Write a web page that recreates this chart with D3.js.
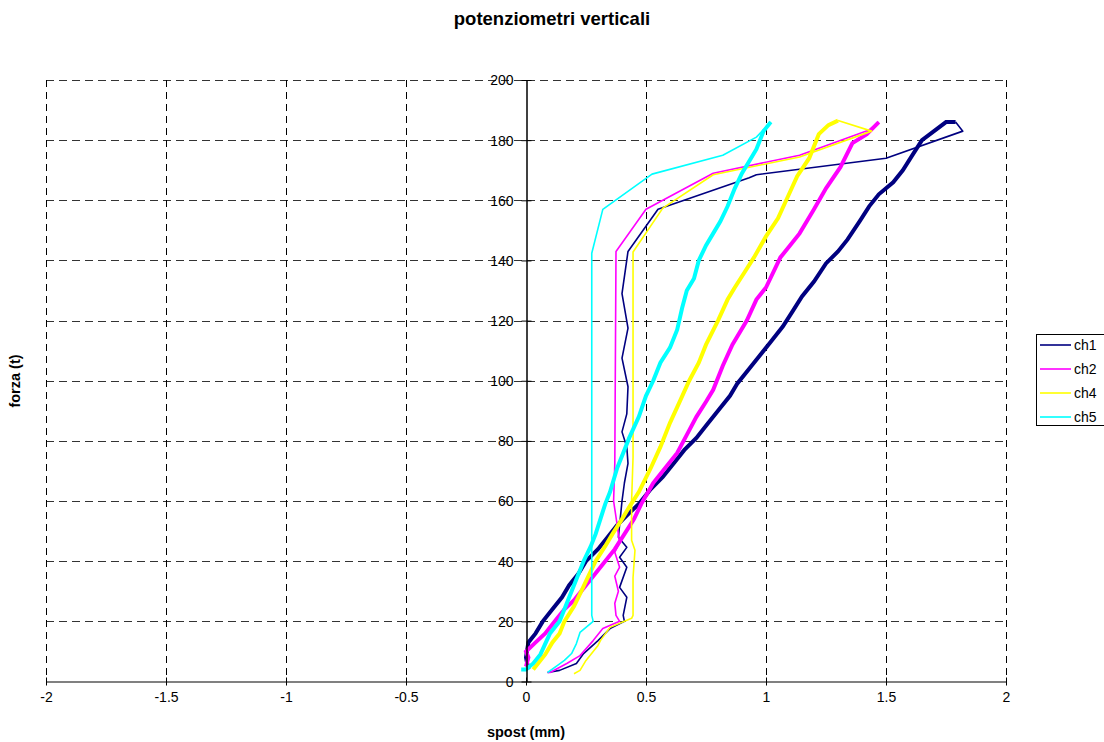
<!DOCTYPE html>
<html>
<head>
<meta charset="utf-8">
<script src="https://cdn.jsdelivr.net/npm/d3@7"></script>
<style>
  html, body { margin: 0; padding: 0; background: #fff; }
  svg { display: block; font-family: "Liberation Sans", Arial, sans-serif; }
</style>
</head>
<body>
<svg id="chart" width="1104" height="742"></svg>
<script>
// Vertical potentiometer readings: displacement (mm) vs load (t)
const xTicks = [-2, -1.5, -1, -0.5, 0, 0.5, 1, 1.5, 2];
const yTicks = [0, 20, 40, 60, 80, 100, 120, 140, 160, 180, 200];

const seriesNames = ["ch1", "ch2", "ch4", "ch5"];
const seriesColors = ["#000080", "#FF00FF", "#FFFF00", "#00FFFF"];

// loading branches [spost, forza]
const ch1Load = [[0.01,4],[0.0,8],[0.01,13],[0.04,16],[0.07,20],[0.11,24],[0.15,28],[0.18,32],[0.22,36],[0.25,40],[0.3,44],[0.34,48],[0.38,52],[0.43,56],[0.47,59],[0.52,64],[0.57,68],[0.62,73],[0.66,77],[0.71,81],[0.75,85],[0.8,90],[0.85,95],[0.88,99],[0.93,104],[0.97,108],[1.02,113],[1.07,118],[1.11,123],[1.15,128],[1.2,133],[1.25,139],[1.3,143],[1.34,147],[1.39,153],[1.43,158],[1.47,162],[1.53,166],[1.57,170],[1.61,175],[1.65,180],[1.7,183],[1.75,186],[1.79,186]];
const ch2Load = [[0.0,5],[0.01,8],[0.0,10],[0.04,13],[0.08,16],[0.12,20],[0.16,24],[0.2,27],[0.24,31],[0.28,35],[0.33,40],[0.37,44],[0.41,49],[0.45,54],[0.48,59],[0.53,66],[0.58,71],[0.63,76],[0.67,82],[0.71,88],[0.75,93],[0.78,97],[0.82,105],[0.86,112],[0.92,120],[0.96,127],[1.0,131],[1.06,141],[1.1,145],[1.14,149],[1.2,157],[1.25,164],[1.31,171],[1.36,179],[1.42,182],[1.47,186]];
const ch4Load = [[0.03,4],[0.05,6],[0.08,9],[0.11,13],[0.14,16],[0.16,20],[0.2,25],[0.23,30],[0.26,35],[0.29,40],[0.33,45],[0.36,49],[0.4,54],[0.43,58],[0.47,63],[0.52,71],[0.56,78],[0.6,86],[0.64,93],[0.68,100],[0.72,106],[0.75,112],[0.8,120],[0.84,127],[0.87,131],[0.91,136],[0.95,141],[1.0,148],[1.05,154],[1.09,161],[1.13,168],[1.18,174],[1.22,182],[1.26,185],[1.3,186.5]];
const ch5Load = [[-0.02,4],[0.0,4],[0.03,6],[0.06,9],[0.1,16],[0.14,20],[0.17,26],[0.19,30],[0.22,36],[0.24,40],[0.27,45],[0.29,49],[0.31,54],[0.33,59],[0.35,63],[0.38,71],[0.41,77],[0.43,81],[0.47,88],[0.5,95],[0.53,100],[0.56,106],[0.6,111],[0.63,117],[0.65,124],[0.67,130],[0.7,134],[0.72,140],[0.75,145],[0.78,149],[0.81,153],[0.84,158],[0.87,164],[0.9,169],[0.93,173],[0.96,177],[0.99,183],[1.02,186]];

// unloading branches [spost, forza]
const ch1Unload = [[1.79,186],[1.82,183],[1.5,174],[0.96,168.5],[0.93,167.5],[0.55,157],[0.425,143],[0.4,129],[0.425,117.5],[0.4,107.5],[0.425,98],[0.42,89],[0.4,83],[0.42,78],[0.425,72.5],[0.41,66],[0.4,60],[0.385,48],[0.42,44.6],[0.39,41.3],[0.42,38],[0.39,31.3],[0.42,28],[0.405,22],[0.41,20],[0.35,17.6],[0.3,13.6],[0.24,9.3],[0.21,6],[0.14,3.7],[0.09,3]];
const ch2Unload = [[1.47,186],[1.43,183.4],[1.14,175],[0.78,169],[0.5,157],[0.375,143],[0.37,72.5],[0.365,60],[0.38,52],[0.39,46],[0.37,43],[0.39,38],[0.37,35],[0.385,30],[0.37,26],[0.375,22],[0.39,20],[0.32,17.6],[0.28,13.6],[0.225,8.6],[0.17,6],[0.1,3],[0.09,3]];
const ch4Unload = [[1.3,186.5],[1.44,183],[1.14,174.4],[0.78,168.5],[0.57,157.4],[0.446,142.8],[0.446,74.5],[0.44,60],[0.44,47],[0.454,43.6],[0.446,34.6],[0.446,22],[0.44,21],[0.35,18],[0.31,13.6],[0.3,12],[0.27,9],[0.25,7],[0.225,3.7],[0.2,2.6]];
const ch5Unload = [[1.02,186],[0.96,181],[0.82,175],[0.525,168.7],[0.32,157],[0.274,142.4],[0.274,22],[0.28,20],[0.225,16.3],[0.21,12.6],[0.19,9.3],[0.16,7],[0.13,5.3],[0.09,3]];

const loadSets = [ch1Load, ch2Load, ch4Load, ch5Load];
const unloadSets = [ch1Unload, ch2Unload, ch4Unload, ch5Unload];

const svg = d3.select("#chart");
const plot = { left: 46, right: 1006, top: 80, bottom: 681.5 };

const x = d3.scaleLinear().domain([-2, 2]).range([plot.left, plot.right]);
const y = d3.scaleLinear().domain([0, 200]).range([plot.bottom, plot.top]);

// gridlines
const grid = svg.append("g");
grid.selectAll("line.h").data(yTicks.filter(d => d > 0)).join("line")
  .attr("x1", plot.left).attr("x2", plot.right)
  .attr("y1", d => Math.round(y(d)) + 0.5).attr("y2", d => Math.round(y(d)) + 0.5)
  .attr("stroke", "#333").attr("stroke-width", 1).attr("stroke-dasharray", "8,5");
grid.selectAll("line.v").data(xTicks.filter(d => d !== 0)).join("line")
  .attr("x1", d => Math.round(x(d)) + 0.5).attr("x2", d => Math.round(x(d)) + 0.5)
  .attr("y1", plot.top).attr("y2", plot.bottom)
  .attr("stroke", "#000").attr("stroke-width", 1).attr("stroke-dasharray", "7,5");

// series lines
const line = d3.line().x(d => x(d[0])).y(d => y(d[1]));
const series = svg.append("g");
seriesNames.forEach((name, i) => {
  series.append("path").datum(loadSets[i])
    .attr("d", line).attr("fill", "none")
    .attr("stroke", seriesColors[i]).attr("stroke-width", 4)
    .attr("stroke-linejoin", "miter");
  series.append("path").datum(unloadSets[i])
    .attr("d", line).attr("fill", "none")
    .attr("stroke", seriesColors[i]).attr("stroke-width", 1.6)
    .attr("stroke-linejoin", "round");
});

// x axis through forza = 0
const xAxis = d3.axisBottom(x).tickValues(xTicks).tickSize(0).tickFormat(d => String(d));
const gx = svg.append("g").attr("transform", `translate(0,${y(0)})`).call(xAxis);
gx.select(".domain").attr("stroke", "#808080").attr("stroke-width", 2);
gx.selectAll(".tick text").attr("dy", null).attr("y", 20)
  .attr("font-size", 14).attr("font-family", "Liberation Sans, Arial, sans-serif").attr("fill", "#000");
gx.selectAll(".tick").append("line")
  .attr("y1", -4).attr("y2", 4).attr("stroke", "#000").attr("stroke-width", 1);

// y axis through spost = 0
const yAxis = d3.axisLeft(y).tickValues(yTicks).tickSize(0).tickFormat(d => String(d));
const gy = svg.append("g").attr("transform", `translate(${Math.round(x(0)) + 0.5},0)`).call(yAxis);
gy.select(".domain").attr("stroke", "#000").attr("stroke-width", 1.5);
gy.selectAll(".tick text").attr("x", -13).attr("dy", "0.35em")
  .attr("font-size", 14).attr("font-family", "Liberation Sans, Arial, sans-serif").attr("fill", "#000");
gy.selectAll(".tick").append("line")
  .attr("x1", -5).attr("x2", 5).attr("stroke", "#000").attr("stroke-width", 1);

// titles
svg.append("text").attr("x", 552).attr("y", 25).attr("text-anchor", "middle")
  .attr("font-size", 18.5).attr("font-weight", "bold").text("potenziometri verticali");
svg.append("text").attr("x", 526).attr("y", 737).attr("text-anchor", "middle")
  .attr("font-size", 14.5).attr("font-weight", "bold").text("spost (mm)");
svg.append("text").attr("transform", "translate(20,381) rotate(-90)").attr("text-anchor", "middle")
  .attr("font-size", 14.5).attr("font-weight", "bold").text("forza (t)");

// legend
const legend = svg.append("g");
legend.append("rect").attr("x", 1036.5).attr("y", 334.5).attr("width", 80).attr("height", 91)
  .attr("fill", "#fff").attr("stroke", "#000").attr("stroke-width", 1);
const entries = legend.selectAll("g.entry").data(seriesNames).join("g")
  .attr("transform", (d, i) => `translate(0,${345 + i * 24})`);
entries.append("line").attr("x1", 1040).attr("x2", 1071)
  .attr("stroke", (d, i) => seriesColors[i]).attr("stroke-width", 1.6);
entries.append("text").attr("x", 1074).attr("dy", "0.35em").attr("font-size", 14).text(d => d);
</script>
</body>
</html>
